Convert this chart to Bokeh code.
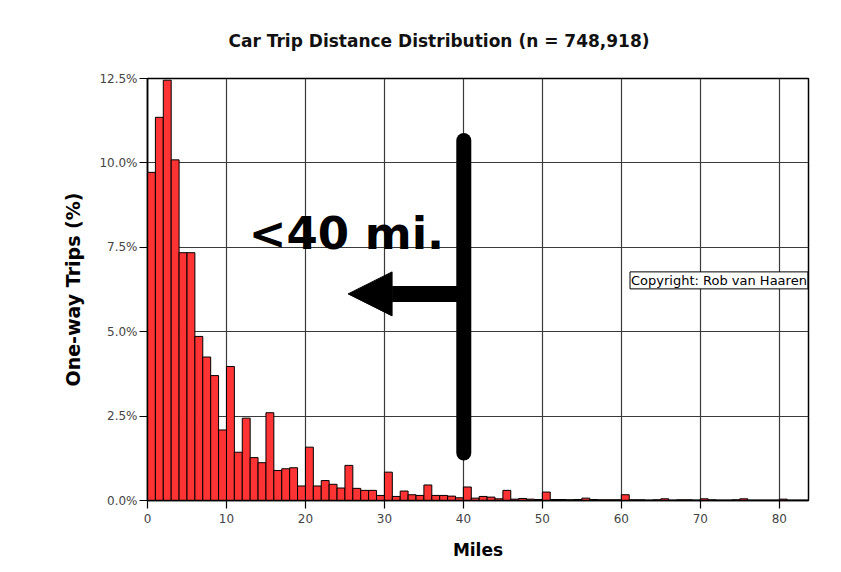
from bokeh.plotting import figure
from bokeh.models import FixedTicker, PrintfTickFormatter, Label, Arrow, NormalHead, Range1d
from bokeh.embed import file_html
from bokeh.resources import INLINE

# ---- data -------------------------------------------------------------
miles = list(range(84))  # left edge of each 1-mile bin
pct = [9.72, 11.35, 12.45, 10.09, 7.34, 7.34, 4.86, 4.25, 3.70, 2.09,
       3.97, 1.43, 2.44, 1.27, 1.12, 2.60, 0.89, 0.94, 0.97, 0.43,
       1.58, 0.43, 0.59, 0.48, 0.37, 1.04, 0.36, 0.30, 0.30, 0.15,
       0.84, 0.12, 0.28, 0.17, 0.15, 0.46, 0.15, 0.15, 0.13, 0.08,
       0.40, 0.07, 0.12, 0.10, 0.05, 0.30, 0.04, 0.06, 0.04, 0.03,
       0.25, 0.03, 0.03, 0.02, 0.03, 0.07, 0.03, 0.02, 0.02, 0.02,
       0.17, 0.02, 0.02, 0.01, 0.02, 0.05, 0.01, 0.02, 0.02, 0.01,
       0.05, 0.02, 0.01, 0.01, 0.02, 0.05, 0.01, 0.01, 0.01, 0.01,
       0.04, 0.01, 0.01, 0.01]
x_ticks = [0, 10, 20, 30, 40, 50, 60, 70, 80]
y_ticks = [0, 2.5, 5.0, 7.5, 10.0, 12.5]
title_text = "Car Trip Distance Distribution (n = 748,918)"
x_label = "Miles"
y_label = "One-way Trips (%)"
note_text = "<40 mi."
copyright_text = "Copyright: Rob van Haaren"

# annotation anchors (data units: miles, percent)
cutoff_mile = 40.05
bar_low, bar_high = 1.41, 10.66
arrow_y, arrow_tip = 6.12, 25.4
note_x, note_y = 12.82, 7.90
copy_x, copy_y = 61.1, 6.52

FONT = "DejaVu Sans"

p = figure(width=833, height=564, output_backend="svg", toolbar_location=None,
           x_range=Range1d(0, 83.7), y_range=Range1d(0, 12.5),
           min_border_left=147, min_border_right=25,
           min_border_top=78, min_border_bottom=64,
           title=title_text)
p.background_fill_color = "white"
p.border_fill_color = "white"
p.outline_line_color = "black"
p.outline_line_width = 1.5

p.title.align = "left"
p.title.offset = 81
p.title.text_font = FONT
p.title.text_font_style = "bold"
p.title.text_font_size = "17px"
p.title.text_color = "#111111"
p.title.standoff = 56

p.quad(left=miles, right=[m + 1 for m in miles], bottom=0, top=pct,
       fill_color="#FF3333", line_color="black", line_width=1)

# grid
p.xgrid.ticker = FixedTicker(ticks=x_ticks)
p.ygrid.ticker = FixedTicker(ticks=y_ticks)
for g in (p.xgrid, p.ygrid):
    g.grid_line_color = "#3a3a3a"
    g.grid_line_width = 1.2

# axes
p.xaxis.ticker = FixedTicker(ticks=x_ticks)
p.yaxis.ticker = FixedTicker(ticks=y_ticks)
p.yaxis.formatter = PrintfTickFormatter(format="%.1f%%")
for ax in (p.xaxis, p.yaxis):
    ax.axis_line_color = "black"
    ax.axis_line_width = 1.5
    ax.major_tick_line_color = "black"
    ax.major_tick_line_width = 1.2
    ax.major_tick_in = 0
    ax.major_tick_out = 8
    ax.minor_tick_line_color = None
    ax.major_label_text_font = FONT
    ax.major_label_text_font_size = "12px"
    ax.major_label_text_color = "#444444"
    ax.axis_label_text_font = FONT
    ax.axis_label_text_font_style = "bold"
    ax.axis_label_text_color = "black"
p.xaxis.axis_label = x_label
p.yaxis.axis_label = y_label
p.xaxis.axis_label_text_font_size = "17px"
p.yaxis.axis_label_text_font_size = "19px"
p.xaxis.major_label_standoff = 5
p.yaxis.major_label_standoff = 2
p.xaxis.axis_label_standoff = 14
p.yaxis.axis_label_standoff = 12

# annotations
p.add_layout(Arrow(x_start=cutoff_mile, y_start=bar_low, x_end=cutoff_mile, y_end=bar_high,
                   start=None, end=None, line_color="black", line_width=15, line_cap="round"))
p.add_layout(Arrow(x_start=cutoff_mile, y_start=arrow_y, x_end=arrow_tip, y_end=arrow_y,
                   end=NormalHead(size=44, fill_color="black", line_color="black", line_width=1),
                   line_color="black", line_width=16))
p.add_layout(Label(x=note_x, y=note_y, text=note_text, text_align="left",
                   text_baseline="alphabetic", text_font=FONT, text_font_style="bold",
                   text_font_size="45px", text_color="black"))
p.add_layout(Label(x=copy_x, y=copy_y, text=copyright_text, text_align="left",
                   text_baseline="middle", text_font=FONT, text_font_size="13px",
                   text_color="black", background_fill_color="white",
                   border_line_color="black", border_line_width=1, padding=1))

open("out.html", "w").write(file_html(p, INLINE))
